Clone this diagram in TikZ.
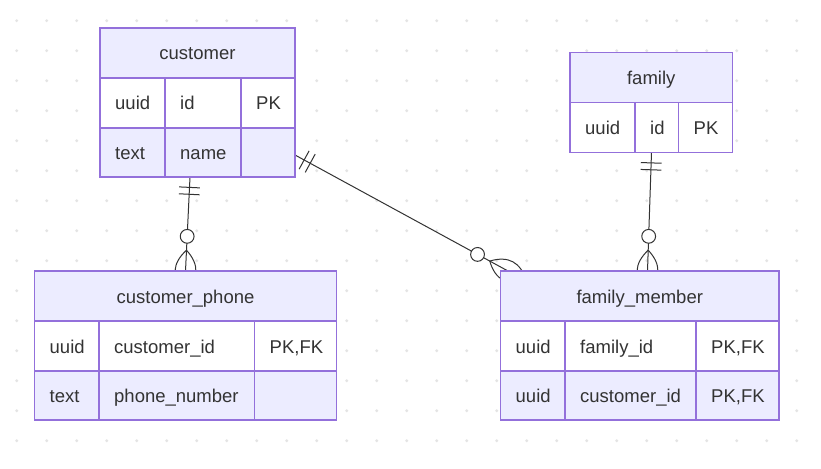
\documentclass[tikz,border=0pt]{standalone}
\usepackage{fontspec}
\setmainfont{Liberation Sans}
\usetikzlibrary{calc}
\definecolor{hdrfill}{HTML}{ECECFF}
\definecolor{rowodd}{HTML}{FFFFFF}
\definecolor{roweven}{HTML}{ECECFF}
\definecolor{bordc}{HTML}{9370DB}
\definecolor{txtc}{HTML}{333333}
\definecolor{dotc}{HTML}{E4E4E4}
\tikzset{
  cellbox/.style={draw=bordc, line width=1.6pt, rectangle, inner sep=0pt, outer sep=0pt},
  celltext/.style={text=txtc, inner sep=0pt, font=\fontsize{18.5}{22}\selectfont},
  rel/.style={draw=txtc, line width=1pt},
  relcirc/.style={draw=txtc, line width=1pt, fill=white},
}
% name, x1, x2, y1, y2, text
\newcommand{\erHead}[6]{%
  \node[cellbox, fill=hdrfill, minimum width={#3pt-#2pt}, minimum height={#5pt-#4pt}, anchor=north west] (#1) at (#2,#4) {};
  \node[celltext, anchor=base] (#1-t) at ($(#1.center)+(0,7)$) {#6};}
% name, x1, x2, y1, y2, fill, text
\newcommand{\erCell}[7]{%
  \node[cellbox, fill=#6, minimum width={#3pt-#2pt}, minimum height={#5pt-#4pt}, anchor=north west] (#1) at (#2,#4) {};
  \node[celltext, anchor=base west] (#1-t) at ($(#1.west)+(15,7)$) {#7};}
% relationship: A (one side, only-one), B (many side, zero-or-more)
\newcommand{\erRel}[2]{%
  \draw[rel] (#1) -- (#2);
  \coordinate (#1-b1) at ($(#1)!10.4pt!(#2)$);
  \coordinate (#1-b2) at ($(#1)!17.3pt!(#2)$);
  \draw[rel] ($(#1-b1)!10.4pt!90:(#2)$) -- ($(#1-b1)!10.4pt!-90:(#2)$);
  \draw[rel] ($(#1-b2)!10.4pt!90:(#2)$) -- ($(#1-b2)!10.4pt!-90:(#2)$);
  \coordinate (#2-o) at ($(#2)!20.8pt!(#1)$);
  \coordinate (#2-e) at ($(#2)!-20.8pt!(#1)$);
  \coordinate (#2-k1) at ($(#2)!20.8pt!90:(#1)$);
  \coordinate (#2-k2) at ($(#2)!20.8pt!-90:(#1)$);
  \draw[rel] (#2-o) .. controls ($(#2-o)!0.6667!(#2-k1)$) and ($(#2-e)!0.6667!(#2-k1)$) .. (#2-e);
  \draw[rel] (#2-o) .. controls ($(#2-o)!0.6667!(#2-k2)$) and ($(#2-e)!0.6667!(#2-k2)$) .. (#2-e);
  \draw[relcirc] ($(#2)!34.7pt!(#1)$) circle (6.9pt);}
\begin{document}
\begin{tikzpicture}[x=1pt, y=-1pt]
\useasboundingbox (0,0) rectangle (821,468);
\fill[white] (0,0) rectangle (821,468);
\foreach \i in {0,...,26} {
  \foreach \j in {0,...,14} {
    \fill[dotc] (16.7+30*\i, 20.7+30*\j) circle (1.6pt);
  }
}
% connector end points
\coordinate (r1a) at (190,177);
\coordinate (r1b) at (185.5,271);
\coordinate (r2a) at (295,155);
\coordinate (r2b) at (508,271);
\coordinate (r3a) at (651.5,152.5);
\coordinate (r3b) at (647.5,271);
\erRel{r1a}{r1b}
\erRel{r2a}{r2b}
\erRel{r3a}{r3b}
% customer
\erHead{customer}{100}{295}{28}{78}{customer}
\erCell{cu-11}{100}{165}{78}{128}{rowodd}{uuid}
\erCell{cu-12}{165}{241}{78}{128}{rowodd}{id}
\erCell{cu-13}{241}{295}{78}{128}{rowodd}{PK}
\erCell{cu-21}{100}{165}{128}{177}{roweven}{text}
\erCell{cu-22}{165}{241}{128}{177}{roweven}{name}
\erCell{cu-23}{241}{295}{128}{177}{roweven}{}
% family
\erHead{family}{570}{732.5}{52.5}{102.5}{family}
\erCell{fa-11}{570}{635}{102.5}{152.5}{rowodd}{uuid}
\erCell{fa-12}{635}{678.5}{102.5}{152.5}{rowodd}{id}
\erCell{fa-13}{678.5}{732.5}{102.5}{152.5}{rowodd}{PK}
% customer_phone
\erHead{customer-phone}{34.5}{336.5}{271}{321}{customer\_phone}
\erCell{cp-11}{34.5}{99}{321}{371}{rowodd}{uuid}
\erCell{cp-12}{99}{254.5}{321}{371}{rowodd}{customer\_id}
\erCell{cp-13}{254.5}{336.5}{321}{371}{rowodd}{PK,FK}
\erCell{cp-21}{34.5}{99}{371}{420}{roweven}{text}
\erCell{cp-22}{99}{254.5}{371}{420}{roweven}{phone\_number}
\erCell{cp-23}{254.5}{336.5}{371}{420}{roweven}{}
% family_member
\erHead{family-member}{500.5}{779}{271}{321}{family\_member}
\erCell{fm-11}{500.5}{565}{321}{371}{rowodd}{uuid}
\erCell{fm-12}{565}{696}{321}{371}{rowodd}{family\_id}
\erCell{fm-13}{696}{779}{321}{371}{rowodd}{PK,FK}
\erCell{fm-21}{500.5}{565}{371}{420}{roweven}{uuid}
\erCell{fm-22}{565}{696}{371}{420}{roweven}{customer\_id}
\erCell{fm-23}{696}{779}{371}{420}{roweven}{PK,FK}
\end{tikzpicture}
\end{document}
